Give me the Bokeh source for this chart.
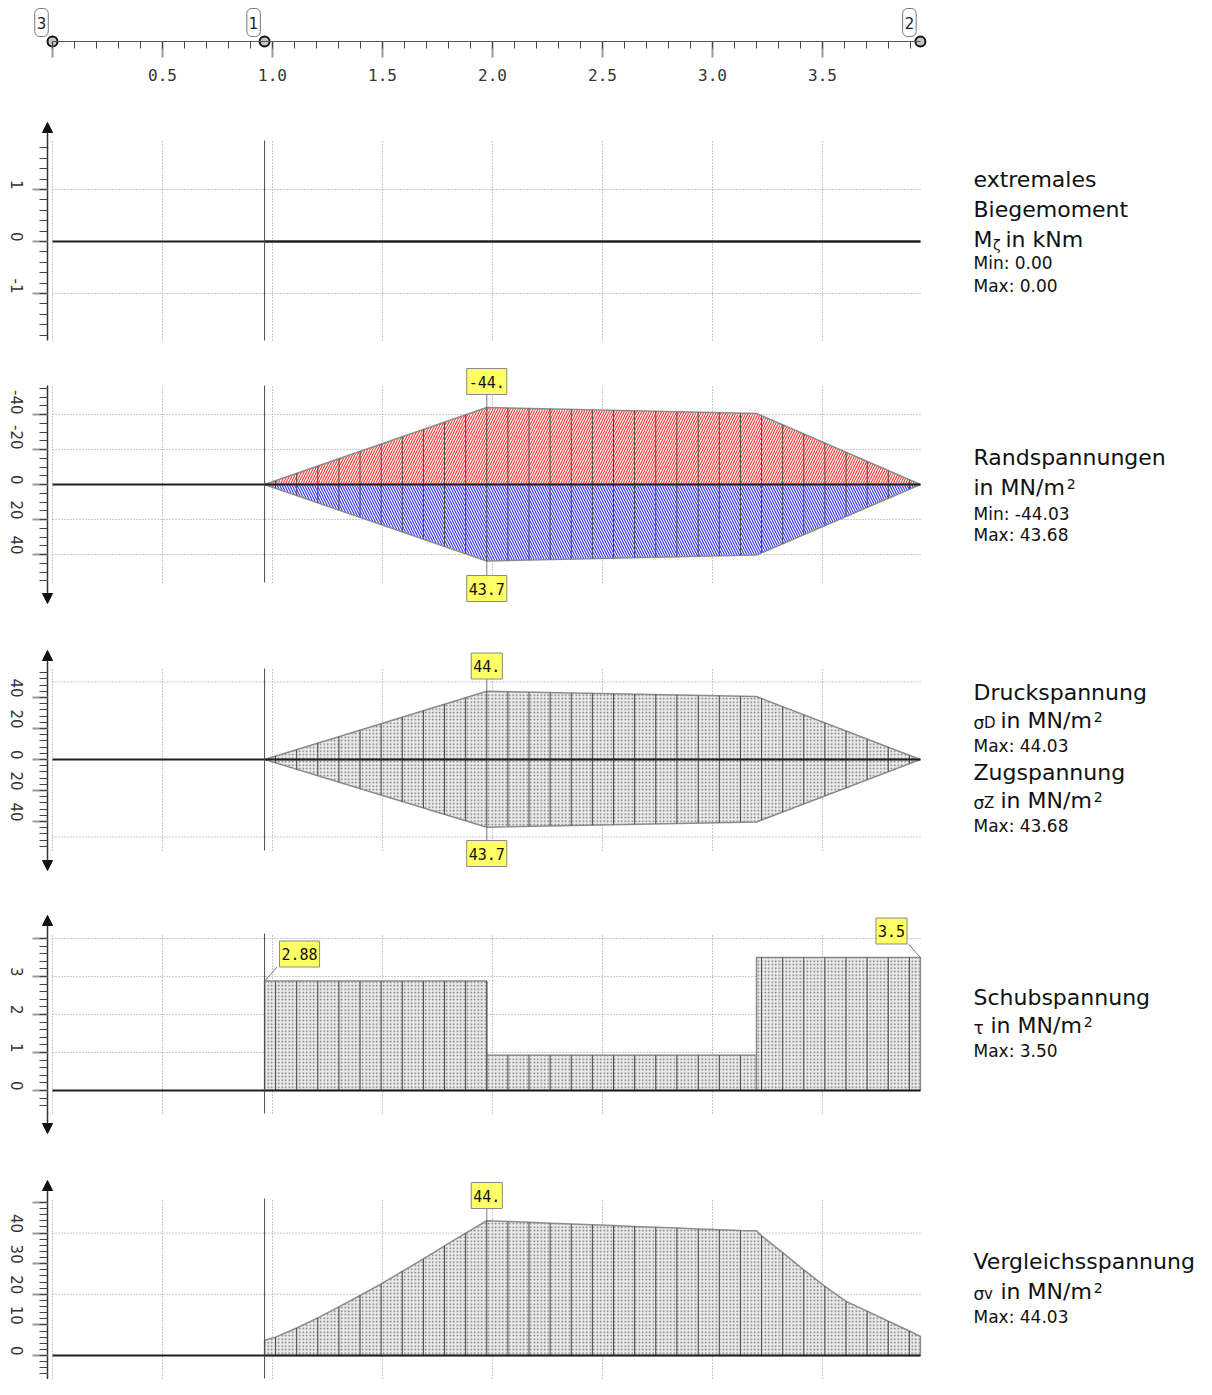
import math
from bokeh.plotting import figure
from bokeh.models import (Range1d, LinearAxis, SingleIntervalTicker, Label, Arrow,
                          NormalHead, NumeralTickFormatter)
from bokeh.embed import file_html
from bokeh.resources import INLINE

# ---------------- data ----------------
node_x = [0.0, 0.964, 3.945]
node_names = ["3", "1", "2"]
grid_x = [0.0, 0.5, 1.0, 1.5, 2.0, 2.5, 3.0, 3.5]
sec_x = [0.964, 1.974, 3.20, 3.945]          # section boundaries of the element
stations = [1.014, 1.110, 1.206, 1.302, 1.398, 1.494, 1.590, 1.686, 1.782, 1.878,
            1.974, 2.070, 2.166, 2.262, 2.358, 2.454, 2.550, 2.646, 2.742, 2.838,
            2.935, 3.031, 3.127, 3.223, 3.319, 3.415, 3.511, 3.607, 3.703, 3.799, 3.895]
moment_key = [0.0, 0.0, 0.0, 0.0]
sig_top_key = [0.0, -44.03, -40.60, 0.0]
sig_bot_key = [0.0, 43.68, 40.30, 0.0]
sig_top = [-2.18, -6.37, -10.55, -14.74, -18.92, -23.11, -27.29, -31.48, -35.66, -39.85,
           -44.03, -43.76, -43.49, -43.22, -42.96, -42.69, -42.42, -42.15, -41.88, -41.61,
           -41.34, -41.07, -40.80, -39.35, -34.12, -28.88, -23.65, -18.42, -13.19, -7.96, -2.72]
sig_bot = [2.16, 6.32, 10.47, 14.62, 18.77, 22.92, 27.07, 31.23, 35.38, 39.53,
           43.68, 43.42, 43.15, 42.89, 42.62, 42.36, 42.09, 41.83, 41.56, 41.30,
           41.03, 40.77, 40.50, 39.05, 33.86, 28.67, 23.48, 18.28, 13.09, 7.90, 2.70]
tau_sec = [2.88, 0.93, 3.50]
tau_st = [2.88, 2.88, 2.88, 2.88, 2.88, 2.88, 2.88, 2.88, 2.88, 2.88,
          2.88, 0.93, 0.93, 0.93, 0.93, 0.93, 0.93, 0.93, 0.93, 0.93,
          0.93, 0.93, 0.93, 3.50, 3.50, 3.50, 3.50, 3.50, 3.50, 3.50, 3.50]
sv_start, sv_kink, sv_end = 4.99, 40.80, 6.20
sv_st = [6.0, 9.0, 12.3, 15.9, 19.6, 23.4, 27.5, 31.6, 35.8, 40.0,
         44.03, 43.79, 43.52, 43.25, 42.99, 42.72, 42.45, 42.18, 41.91, 41.64,
         41.37, 41.10, 40.83, 39.10, 33.60, 28.00, 22.60, 17.70, 14.50, 11.20, 8.00]

peak_texts = {"rs_top": "-44.", "rs_bot": "43.7", "dz_top": "44.", "dz_bot": "43.7",
              "tau_a": "2.88", "tau_b": "3.5", "sv": "44."}

# ---------------- layout helpers ----------------
W, H, M = 1196, 1379, 0
X0PX, XSC = 52.0, 220.0


def xd(px):
    return (px - X0PX) / XSC


p = figure(width=W, height=H, output_backend="svg", toolbar_location=None,
           x_range=Range1d(xd(M), xd(M + W)), y_range=Range1d(M + H, M),
           x_axis_location=None, y_axis_location=None, min_border=0)
p.min_border_left = p.min_border_right = p.min_border_top = p.min_border_bottom = 0
p.outline_line_color = None
p.background_fill_color = "white"
p.border_fill_color = "white"
p.grid.visible = False
p.xgrid.grid_line_color = None
p.ygrid.grid_line_color = None

panels = [
    dict(name="m", zero=241, scale=52.0, sign=1, top_px=140, bot_px=340,
         interval=1, minor=5, bounds=(-1.904, 1.8), hgrid=[-1, 1], overrides={-1: "-1"},
         arrows=[(1.8, 122)]),
    dict(name="rs", zero=484, scale=1.75, sign=-1, top_px=385, bot_px=582,
         interval=20, minor=4, bounds=(-56.6, 55), hgrid=[-40, -20, 20, 40],
         overrides={-40: "-40", -20: "-20"}, arrows=[(55, 603)]),
    dict(name="dz", zero=759, scale=1.55, sign=1, top_px=668, bot_px=850,
         interval=20, minor=5, bounds=(-56, 56), hgrid=[-50, 50],
         overrides={-20: "20", -40: "40"}, arrows=[(56, 650), (-56, 870)]),
    dict(name="tau", zero=1090, scale=38.0, sign=1, top_px=933, bot_px=1113,
         interval=1, minor=5, bounds=(-0.6, 4.0), hgrid=[1, 2, 3, 4], overrides={4: ""},
         arrows=[(4.0, 915), (-0.6, 1133)]),
    dict(name="sv", zero=1355, scale=3.06, sign=1, top_px=1198, bot_px=1378,
         interval=10, minor=5, bounds=(-6, 50), hgrid=[20, 40], overrides={50: ""},
         arrows=[(50, 1180), (-6, 1393)]),
]
PN = {d["name"]: d for d in panels}


def pv(name, px):
    d = PN[name]
    return (d["zero"] - px) / (d["sign"] * d["scale"])


p.extra_y_ranges = {d["name"]: Range1d(start=pv(d["name"], M + H), end=pv(d["name"], M))
                    for d in panels}

AX_X = xd(47)
GRID = dict(line_color="#969696", line_dash="1 2", line_width=1)

for d in panels:
    n = d["name"]
    top, bot = pv(n, d["top_px"]), pv(n, d["bot_px"])
    p.segment(x0=grid_x, y0=[bot] * len(grid_x), x1=grid_x, y1=[top] * len(grid_x),
              y_range_name=n, **GRID)
    hg = d["hgrid"]
    p.segment(x0=[node_x[0]] * len(hg), y0=hg, x1=[node_x[-1]] * len(hg), y1=hg,
              y_range_name=n, **GRID)

FILL_GREY = dict(fill_color="#ebebeb", hatch_pattern="dot", hatch_color="#707070",
                 hatch_scale=3.5, hatch_weight=1.3, line_color="#8c8c8c", line_width=1.5)
ST = dict(line_color="#4a4a4a", line_width=1)

# panel 1: bending moment (all zero)
p.line(x=sec_x, y=moment_key, y_range_name="m", line_color="#222", line_width=2)

# panel 2: edge stresses
p.patch(x=sec_x, y=sig_top_key, y_range_name="rs", fill_color="white",
        hatch_pattern="/", hatch_color="#ff3030", hatch_scale=5, hatch_weight=1.1,
        line_color="#8c8c8c", line_width=1.5)
p.patch(x=sec_x, y=sig_bot_key, y_range_name="rs", fill_color="white",
        hatch_pattern="\\", hatch_color="#3030ff", hatch_scale=5, hatch_weight=1.1,
        line_color="#8c8c8c", line_width=1.5)
p.segment(x0=stations, y0=sig_top, x1=stations, y1=sig_bot, y_range_name="rs", **ST)

# panel 3: compression / tension
p.patch(x=sec_x, y=[-v for v in sig_top_key], y_range_name="dz", **FILL_GREY)
p.patch(x=sec_x, y=[-v for v in sig_bot_key], y_range_name="dz", **FILL_GREY)
p.segment(x0=stations, y0=[-v for v in sig_top], x1=stations, y1=[-v for v in sig_bot],
          y_range_name="dz", **ST)

# panel 4: shear stress
p.quad(left=sec_x[:-1], right=sec_x[1:], bottom=[0] * len(tau_sec), top=tau_sec,
       y_range_name="tau", **FILL_GREY)
p.segment(x0=stations, y0=[0] * len(stations), x1=stations, y1=tau_st,
          y_range_name="tau", **ST)

# panel 5: equivalent stress
sv_x = [sec_x[0], sec_x[0]] + stations[:23] + [sec_x[2]] + stations[23:] + [sec_x[3], sec_x[3]]
sv_y = [0, sv_start] + sv_st[:23] + [sv_kink] + sv_st[23:] + [sv_end, 0]
p.patch(x=sv_x, y=sv_y, y_range_name="sv", **FILL_GREY)
p.segment(x0=stations, y0=[0] * len(stations), x1=stations, y1=sv_st,
          y_range_name="sv", **ST)

# zero lines, node-1 lines, axes, arrows
for d in panels:
    n = d["name"]
    top, bot = pv(n, d["top_px"]), pv(n, d["bot_px"])
    p.segment(x0=[node_x[0]], y0=[0], x1=[node_x[-1]], y1=[0], y_range_name=n,
              line_color="#1e1e1e", line_width=2)
    p.segment(x0=[node_x[1]], y0=[bot], x1=[node_x[1]], y1=[top], y_range_name=n,
              line_color="#4a4a4a", line_width=1)
    ax = LinearAxis(y_range_name=n, fixed_location=AX_X, bounds=d["bounds"],
                    ticker=SingleIntervalTicker(interval=d["interval"], num_minor_ticks=d["minor"]),
                    major_label_overrides=d["overrides"],
                    major_label_orientation=-math.pi / 2,
                    axis_line_color="#333333", axis_line_width=1.5,
                    major_tick_in=0, major_tick_out=15, major_tick_line_color="#9a9a9a",
                    major_tick_line_width=2,
                    minor_tick_in=0, minor_tick_out=8, minor_tick_line_color="#444444",
                    minor_tick_line_width=1,
                    major_label_text_font="DejaVu Sans", major_label_text_font_size="15px",
                    major_label_text_color="#333333", major_label_standoff=16)
    p.add_layout(ax, "left")
    for start, tip_px in d["arrows"]:
        p.add_layout(Arrow(end=NormalHead(size=10, fill_color="#111", line_color="#111"),
                           x_start=AX_X, y_start=start, x_end=AX_X, y_end=pv(n, tip_px),
                           y_range_name=n, line_color="#333333", line_width=1.5))

# top beam axis
xa = LinearAxis(fixed_location=41, bounds=(node_x[0], node_x[-1]),
                ticker=SingleIntervalTicker(interval=0.5, num_minor_ticks=5),
                formatter=NumeralTickFormatter(format="0.0"),
                major_label_overrides={0: ""},
                axis_line_color="#555555", axis_line_width=1.2,
                major_tick_in=0, major_tick_out=16, major_tick_line_color="#9a9a9a",
                major_tick_line_width=2,
                minor_tick_in=0, minor_tick_out=7, minor_tick_line_color="#444444",
                major_label_text_font="DejaVu Sans Mono", major_label_text_font_size="16px",
                major_label_text_color="#333333", major_label_standoff=11)
p.add_layout(xa, "below")
p.scatter(x=node_x, y=[41] * len(node_x), size=10, marker="circle", fill_color="#c4c4c4",
          line_color="#111111", line_width=2)
for nx, nm in zip(node_x, node_names):
    p.add_layout(Label(x=nx - 11 / XSC, y=22, text=nm, text_align="center",
                       text_baseline="middle", text_font="DejaVu Sans",
                       text_font_size="15px", text_color="#222",
                       background_fill_color="white", border_line_color="#777",
                       border_radius=5, padding=dict(left=2, right=2, top=8, bottom=8)))

# value callouts


def callout(name, xa_, ya, xb, yb, xc, yc, text):
    p.segment(x0=[xa_], y0=[ya], x1=[xb], y1=[yb], y_range_name=name,
              line_color="#777", line_width=1)
    p.add_layout(Label(x=xc, y=yc, y_range_name=name, text=text, text_align="center",
                       text_baseline="middle", text_font="DejaVu Sans Mono",
                       text_font_size="15px", text_color="#111",
                       background_fill_color="#ffff66", border_line_color="#8a8a8a",
                       padding=dict(left=2, right=2, top=7, bottom=7)))


xp = sec_x[1]
callout("rs", xp, sig_top_key[1], xp, pv("rs", 394), xp, pv("rs", 381), peak_texts["rs_top"])
callout("rs", xp, sig_bot_key[1], xp, pv("rs", 575), xp, pv("rs", 588), peak_texts["rs_bot"])
callout("dz", xp, -sig_top_key[1], xp, pv("dz", 678), xp, pv("dz", 665.5), peak_texts["dz_top"])
callout("dz", xp, -sig_bot_key[1], xp, pv("dz", 840), xp, pv("dz", 853), peak_texts["dz_bot"])
callout("tau", sec_x[0], tau_sec[0], xd(276.5), pv("tau", 966.5), xd(299), pv("tau", 953.5),
        peak_texts["tau_a"])
callout("tau", sec_x[3], tau_sec[2], xd(908), pv("tau", 943.5), xd(891), pv("tau", 930.5),
        peak_texts["tau_b"])
callout("sv", xp, sv_st[10], xp, pv("sv", 1208), xp, pv("sv", 1195), peak_texts["sv"])

# right-hand descriptions
FONT = "DejaVu Sans"


def txt(x_px, base_px, s, size):
    # base_px: text baseline in reference pixels
    p.add_layout(Label(x=xd(x_px), y=base_px - 0.345 * size, text=s, text_font=FONT,
                       text_font_size=f"{size}px", text_color="#111",
                       text_align="left", text_baseline="middle"))


TX = 973
UNIT_W = 91.3   # width of "in MN/m" at 22px

# panel 1
txt(TX, 187, "extremales", 22)
txt(TX, 217, "Biegemoment", 22)
txt(TX, 246.5, "M", 22)
txt(TX + 19.5, 249, "ζ", 14)
txt(TX + 32, 246.5, "in kNm", 22)
txt(TX, 268.5, "Min: 0.00", 17)
txt(TX, 291, "Max: 0.00", 17)

# panel 2
txt(TX, 465, "Randspannungen", 22)
txt(TX, 495, "in MN/m", 22)
txt(TX + UNIT_W + 2, 488, "2", 14)
txt(TX, 519, "Min: -44.03", 17)
txt(TX, 540.5, "Max: 43.68", 17)


def sym_unit(y, sym, sub, start):
    txt(TX, y, sym, 17)
    if sub:
        txt(TX + 10.5, y, sub, 15)
    txt(TX + start, y, "in MN/m", 22)
    txt(TX + start + UNIT_W + 2, y - 7, "2", 14)


# panel 3
txt(TX, 700, "Druckspannung", 22)
sym_unit(728, "σ", "D", 27)
txt(TX, 751.5, "Max: 44.03", 17)
txt(TX, 780, "Zugspannung", 22)
sym_unit(808, "σ", "Z", 27)
txt(TX, 831, "Max: 43.68", 17)

# panel 4
txt(TX, 1005, "Schubspannung", 22)
sym_unit(1033, "τ", "", 17)
txt(TX, 1056, "Max: 3.50", 17)

# panel 5
txt(TX, 1269, "Vergleichsspannung", 22)
sym_unit(1299, "σ", "v", 27)
txt(TX, 1322, "Max: 44.03", 17)

open("out.html", "w").write(file_html(p, INLINE))
